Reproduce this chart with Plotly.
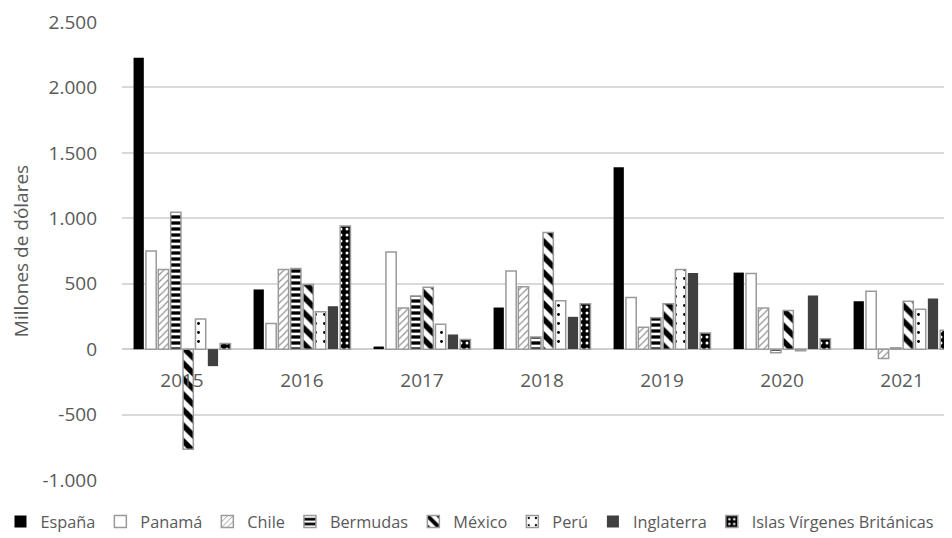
import plotly.graph_objects as go

years = ["2015", "2016", "2017", "2018", "2019", "2020", "2021"]

espana = [2227, 456, 20, 318, 1390, 585, 366]
panama = [750, 196, 743, 598, 394, 578, 443]
chile = [608, 608, 315, 476, 168, 315, -71]
bermudas = [1046, 616, 407, 92, 239, -28, 10]
mexico = [-765, 494, 473, 891, 346, 295, 366]
peru = [231, 285, 191, 369, 608, -12, 305]
inglaterra = [-130, 328, 112, 247, 582, 410, 387]
islas = [43, 941, 74, 346, 124, 79, 145]

series_names = ["España", "Panamá", "Chile", "Bermudas", "México", "Perú",
                "Inglaterra", "Islas Vírgenes Británicas"]
series_values = [espana, panama, chile, bermudas, mexico, peru, inglaterra, islas]

y_tick_vals = [-1000, -500, 0, 500, 1000, 1500, 2000, 2500]
y_tick_text = ["-1.000", "-500", "0", "500", "1.000", "1.500", "2.000", "2.500"]

FONT = "Open Sans"
TXT = "#595959"
BORDER = "#9a9a9a"

styles = [
    dict(color="#000000", line=dict(width=0)),
    dict(color="#ffffff", line=dict(color=BORDER, width=1.5)),
    dict(color="#ffffff", line=dict(color=BORDER, width=1.5),
         pattern=dict(shape="/", fgcolor="#8c8c8c", fgopacity=1, bgcolor="#ffffff",
                      size=5, solidity=0.22)),
    dict(color="#ffffff", line=dict(color=BORDER, width=1.5),
         pattern=dict(shape="-", fgcolor="#000000", fgopacity=1, bgcolor="#ffffff",
                      size=6, solidity=0.55)),
    dict(color="#ffffff", line=dict(color=BORDER, width=1.5),
         pattern=dict(shape="\\", fgcolor="#000000", fgopacity=1, bgcolor="#ffffff",
                      size=11, solidity=0.5)),
    dict(color="#ffffff", line=dict(color=BORDER, width=1.5),
         pattern=dict(shape=".", fgcolor="#000000", fgopacity=1, bgcolor="#ffffff",
                      size=9, solidity=0.08)),
    dict(color="#404040", line=dict(width=0)),
    dict(color="#000000", line=dict(color=BORDER, width=1.5),
         pattern=dict(shape=".", fgcolor="#ffffff", fgopacity=1, bgcolor="#000000",
                      size=6, solidity=0.2)),
]

fig = go.Figure()
for name, vals, st in zip(series_names, series_values, styles):
    fig.add_trace(go.Bar(x=years, y=vals, name=name, marker=st))

ymin, ymax = -1000, 2500
fig.update_layout(
    width=952, height=538,
    margin=dict(l=114, r=0, t=14, b=66, autoexpand=False),
    paper_bgcolor="white", plot_bgcolor="white",
    barmode="group", bargap=0.175, bargroupgap=0.17,
    separators=",.",
    font=dict(family=FONT, size=19, color=TXT),
    showlegend=True,
    legend=dict(orientation="h", x=-0.145, xanchor="left",
                y=-0.0917, yanchor="middle",
                font=dict(size=16.3, color=TXT), itemwidth=30, tracegroupgap=0,
                traceorder="normal"),
    xaxis=dict(type="category", range=[-0.5, 6.483], anchor="free",
               position=(0 - ymin) / (ymax - ymin), showgrid=False,
               showline=False, ticks="", ticklabelstandoff=18,
               tickfont=dict(size=19, color=TXT)),
    yaxis=dict(range=[ymin, ymax], tickvals=y_tick_vals, ticktext=y_tick_text,
               showgrid=True, gridcolor="#d9d9d9", gridwidth=1.5,
               zeroline=True, zerolinecolor="#cfcfcf", zerolinewidth=1.5,
               showline=False, ticks="", ticklabelstandoff=24,
               tickfont=dict(size=19, color=TXT),
               title=dict(text="Millones de dólares", font=dict(size=19, color=TXT),
                          standoff=20)),
)

fig.write_html("out.html")
